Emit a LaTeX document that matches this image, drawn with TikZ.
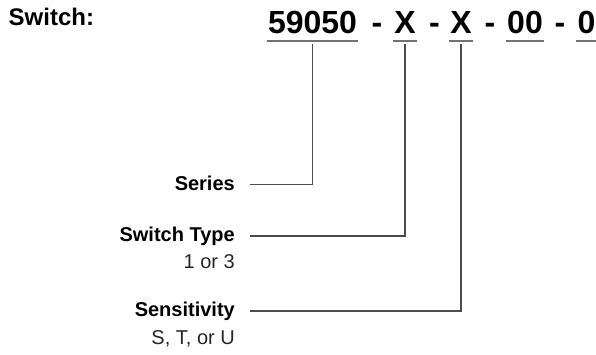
\documentclass[tikz,border=0pt]{standalone}
\usepackage{fontspec}
\setmainfont{Liberation Sans}
\begin{document}
\begin{tikzpicture}[x=1pt,y=-1pt,
  part/.style={inner sep=0pt,anchor=base,font=\fontsize{32}{36}\selectfont\bfseries},
  lab/.style={inner sep=0pt,anchor=base east,font=\fontsize{20}{24}\selectfont\bfseries},
  sub/.style={inner sep=0pt,anchor=base east,text=black!85,font=\fontsize{20}{24}\selectfont},
  uline/.style={draw=black!55,line width=1.4pt},
  conn/.style={draw=black!70,line width=1.1pt}]
\useasboundingbox (0,0) rectangle (596,354);
\node[inner sep=0pt,anchor=base west,font=\fontsize{24}{28}\selectfont\bfseries] (sw) at (8.5,25) {Switch:};
\node[part] (p1) at (312.5,33) {59050};
\node[part] (h1) at (377,33) {-};
\node[part] (p2) at (405,33) {X};
\node[part] (h2) at (434.5,33) {-};
\node[part] (p3) at (461,33) {X};
\node[part] (h3) at (490,33) {-};
\node[part] (p4) at (525,33) {00};
\node[part] (h4) at (560,33) {-};
\node[part] (p5) at (586.5,33) {0};
\foreach \p in {p1,p2,p3,p4,p5}
  \draw[uline] ([xshift=-1pt,yshift=-8pt]\p.base west) -- ([xshift=1pt,yshift=-8pt]\p.base east);
\node[lab] (ser) at (235,190) {Series};
\node[lab] (st) at (235,241.7) {Switch Type};
\node[sub] (st2) at (235,268) {1 or 3};
\node[lab] (sen) at (235,316.7) {Sensitivity};
\node[sub] (sen2) at (235,344) {S, T, or U};
\coordinate (c1) at ([yshift=-11pt]p1.base);
\coordinate (c2) at ([yshift=-11pt]p2.base);
\coordinate (c3) at ([yshift=-11pt]p3.base);
\draw[conn] (c1) |- ([xshift=15pt,yshift=5.5pt]ser.base east);
\draw[conn] (c2) |- ([xshift=15pt,yshift=5.7pt]st.base east);
\draw[conn] (c3) |- ([xshift=15pt,yshift=5.7pt]sen.base east);
\end{tikzpicture}
\end{document}
